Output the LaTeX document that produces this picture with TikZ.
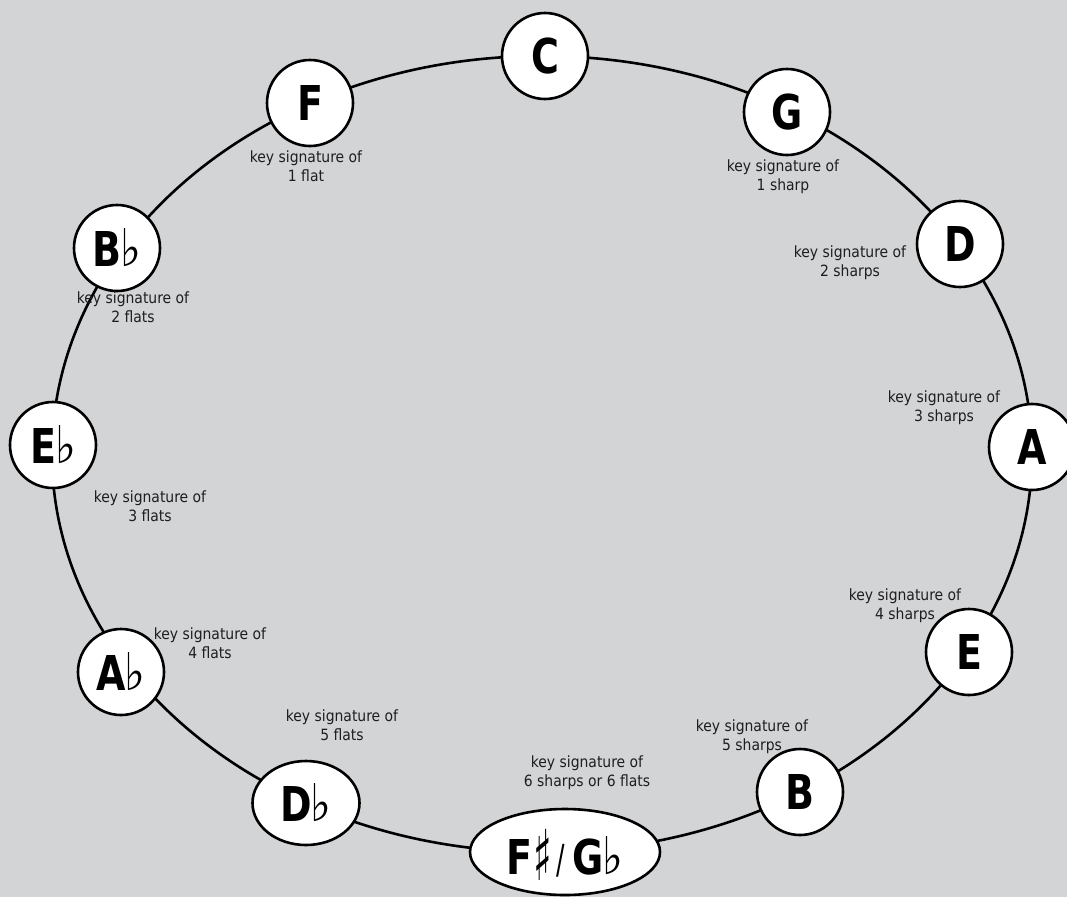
\documentclass[tikz,border=0pt]{standalone}
\usepackage{fontspec}
\usepackage{graphicx}
\setmainfont{DejaVu Sans Condensed}
\newfontfamily\symfont{DejaVu Sans}
\newfontfamily\thinfont{DejaVu Sans Condensed}[FakeStretch=0.7]
\newfontfamily\keyfont{DejaVu Sans Condensed}[FakeStretch=0.88]
\usetikzlibrary{shapes.geometric}
\definecolor{bg}{RGB}{211,212,214}
\definecolor{txt}{RGB}{30,30,30}
\newcommand\fl{{\symfont\fontseries{m}\fontsize{52}{52}\selectfont\scalebox{0.85}[1]{\char"266D}}}
\newcommand\sh{{\symfont\fontseries{m}\fontsize{70}{70}\selectfont\scalebox{0.55}[1]{\raisebox{-6pt}{\char"266F}}}}
\newcommand\slsh{{\thinfont\fontseries{m}\fontsize{40}{40}\selectfont\raisebox{1pt}{/}}}
\tikzset{
  keybox/.style={circle, draw=black, fill=white, line width=2.6pt, minimum size=86pt,
    inner sep=0pt, font=\keyfont\fontsize{48}{48}\selectfont\bfseries},
  ovalbox/.style={ellipse, draw=black, fill=white, line width=2.6pt, inner sep=0pt,
    font=\keyfont\fontsize{48}{48}\selectfont\bfseries},
  sig/.style={align=center, text=txt, inner sep=0pt, font=\fontsize{15.5}{19}\selectfont},
  ring/.style={draw=black, line width=2.6pt}
}
\begin{document}
\begin{tikzpicture}[x=1pt,y=-1pt]
\useasboundingbox (0,0) rectangle (1067,897);
\fill[bg] (0,0) rectangle (1067,897);
\coordinate (ctr) at (542,454);
\draw[ring] (ctr) ellipse [x radius=490pt, y radius=398pt];

\node[keybox] (C) at (545,56) {C};
\node[keybox] (G) at (787,112) {G};
\node[keybox] (D) at (960,244) {D};
\node[keybox] (A) at (1032,447) {A};
\node[keybox] (E) at (969,652) {E};
\node[keybox] (B) at (800,792) {B};
\node[ovalbox, minimum width=190pt, minimum height=86pt, text depth=0pt] (Fs) at (565,852) {F\kern1pt\sh\kern4pt\slsh\kern8pt G\kern-1pt\fl};
\node[ovalbox, minimum width=107pt, minimum height=84pt] (Db) at (306,803) {D\kern-1pt\fl};
\node[keybox] (Ab) at (121,672) {A\kern-1pt\fl};
\node[keybox] (Eb) at (53,445) {E\kern-1pt\fl};
\node[keybox] (Bb) at (117,248) {B\kern-1pt\fl};
\node[keybox] (F) at (310,103) {F};

\node[sig] (sF) at (306,166) {key signature of\\1 flat};
\node[sig] (sG) at (783,177) {key signature of\\1 sharp};
\node[sig] (sD) at (850,263) {key signature of\\2 sharps};
\node[sig] (sBb) at (133,307) {key signature of\\2 flats};
\node[sig] (sEb) at (150,506) {key signature of\\3 flats};
\node[sig] (sA) at (944,408) {key signature of\\3 sharps};
\node[sig] (sAb) at (210,643) {key signature of\\4 flats};
\node[sig] (sE) at (905,606) {key signature of\\4 sharps};
\node[sig] (sDb) at (342,725) {key signature of\\5 flats};
\node[sig] (sB) at (752,737) {key signature of\\5 sharps};
\node[sig] (sFs) at (587,773) {key signature of\\6 sharps or 6 flats};
\end{tikzpicture}
\end{document}
